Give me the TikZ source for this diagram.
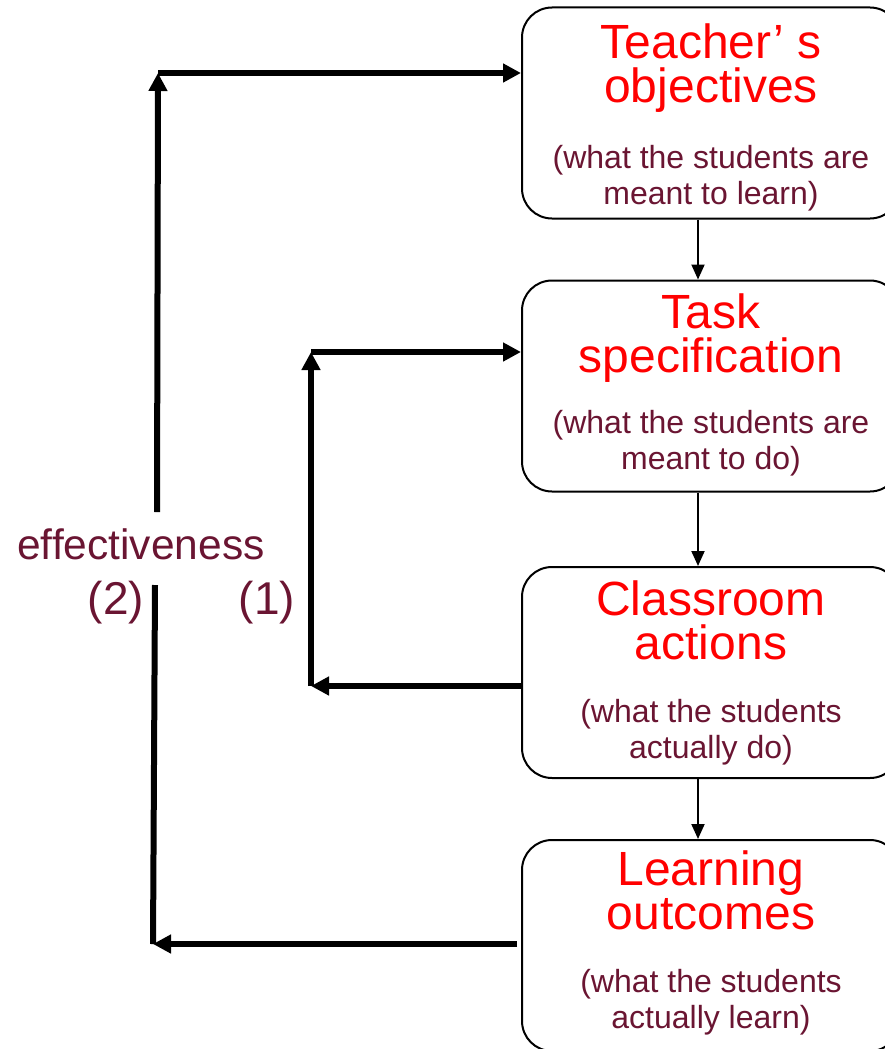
\documentclass[tikz,border=0pt]{standalone}
\usepackage{fontspec}
\setmainfont{Liberation Sans}
\usepackage{tikz}
\usetikzlibrary{arrows.meta}

\definecolor{wine}{RGB}{106,21,50}

\begin{document}
\begin{tikzpicture}[x=1pt, y=-1pt]
        \useasboundingbox (0,0) rectangle (885,1049);
        \clip (0,0) rectangle (885,1049);

        \begin{scope}[every node/.style={draw, line width=2pt, rounded corners=30pt, minimum width=378pt, minimum height=211pt, inner sep=0pt}]
            \node (obj) at (711, 113) {};
            \node (task) at (711, 386) {};
            \node (act) at (711, 672.5) {};
            \node (out) at (711, 945.5) {};
        \end{scope}

        \begin{scope}[every node/.style={text=red, align=center, inner sep=0pt, anchor=north, font=\fontsize{48}{44}\selectfont}]
            \node (objH) at (711, 23.5) {Teacher’ s\\objectives};
            \node (taskH) at (711, 293.5) {Task\\specification};
            \node (actH) at (711, 580.5) {Classroom\\actions};
            \node (outH) at (711, 850.5) {Learning\\outcomes};
        \end{scope}

        \begin{scope}[every node/.style={text=wine, align=center, inner sep=0pt, anchor=north, font=\fontsize{32}{36}\selectfont}]
            \node (objN) at (711, 145) {(what the students are\\meant to learn)};
            \node (taskN) at (711, 410.5) {(what the students are\\meant to do)};
            \node (actN) at (711, 699.5) {(what the students\\actually do)};
            \node (outN) at (711, 969.5) {(what the students\\actually learn)};
        \end{scope}

        \begin{scope}[every node/.style={text=wine, inner sep=0pt, anchor=base, font=\fontsize{42.5}{48}\selectfont}]
            \node (eff) at (141, 559) {effectiveness};
            \node[font=\fontsize{46}{50}\selectfont] (two) at (116, 614) {(2)};
            \node[font=\fontsize{46}{50}\selectfont] (one) at (267, 614) {(1)};
        \end{scope}

        % loop corners
        \coordinate (ob) at (153, 944);
        \coordinate (ot) at (158, 73);
        \coordinate (gb) at (155, 585);
        \coordinate (gt) at (157, 512);
        \coordinate (ib) at (311, 686);
        \coordinate (it) at (311, 352);

        \begin{scope}[every edge/.style={draw=black, line width=6pt}]
            \path [-{Triangle[length=18pt, width=18pt]}] ([xshift=-4pt]out.west |- ob) edge (ob);
            \path [-] (ob) edge (gb);
            \path [-{Triangle[length=18pt, width=18pt]}] (gt) edge (ot);
            \path [-{Triangle[length=18pt, width=18pt]}] (ot) edge (obj.west |- ot);

            \path [-{Triangle[length=18pt, width=18pt]}] (act.west |- ib) edge (ib);
            \path [-{Triangle[length=18pt, width=18pt]}] (ib) edge (it);
            \path [-{Triangle[length=18pt, width=18pt]}] (it) edge (task.west |- it);
        \end{scope}

        \begin{scope}[every edge/.style={draw=black, line width=2pt}]
            \path [-{Triangle[length=15pt, width=13pt]}] ([xshift=-13pt]obj.south) edge ([xshift=-13pt]task.north);
            \path [-{Triangle[length=15pt, width=13pt]}] ([xshift=-13pt]task.south) edge ([xshift=-13pt]act.north);
            \path [-{Triangle[length=15pt, width=13pt]}] ([xshift=-13pt]act.south) edge ([xshift=-13pt]out.north);
        \end{scope}
    \end{tikzpicture}
\end{document}
